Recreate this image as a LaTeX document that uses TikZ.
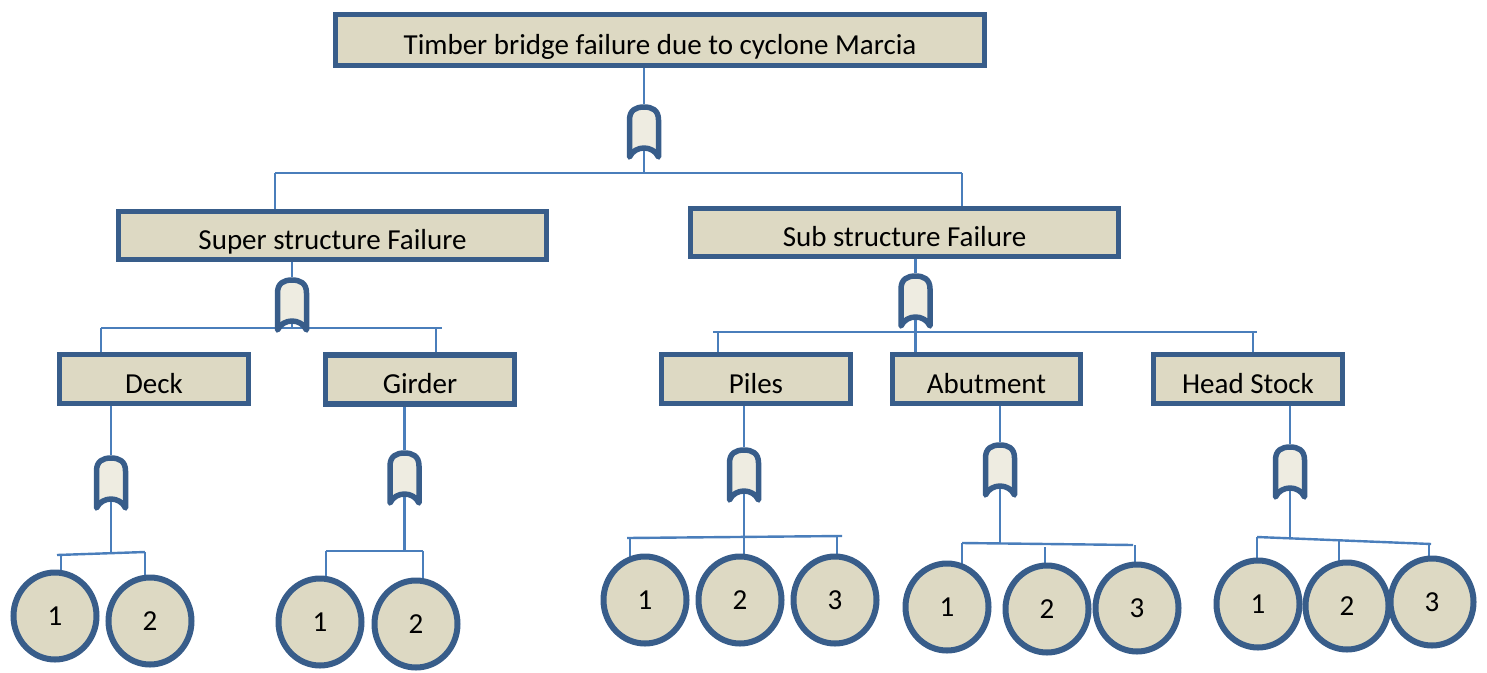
\documentclass[tikz,border=0pt]{standalone}
\usepackage{fontspec}
\setmainfont{Carlito}
\usetikzlibrary{shapes.geometric}
\definecolor{boxblue}{HTML}{385D8A}
\definecolor{boxfill}{HTML}{DDD9C3}
\definecolor{gatefill}{HTML}{EEECE1}
\definecolor{linkblue}{HTML}{4A7EBB}
\pgfdeclarelayer{background}
\pgfsetlayers{background,main}
\tikzset{
  box/.style={draw=boxblue, line width=5.5pt, fill=boxfill, inner sep=0pt,
    minimum height=49pt, font=\fontsize{29}{29}\selectfont, text height=28pt, text depth=0pt},
  basic/.style={ellipse, draw=boxblue, line width=6pt, fill=boxfill, inner sep=0pt,
    minimum width=83pt, minimum height=87pt, font=\fontsize{29}{29}\selectfont},
  link/.style={draw=linkblue, line width=2.4pt},
  pics/orgate/.style={code={
    \draw[draw=boxblue, fill=gatefill, line width=5.5pt, line cap=round, line join=round]
      (-14.5,50) -- (-14.5,13) .. controls (-14.5,3) and (-8,0) .. (0,0)
      .. controls (8,0) and (14.5,3) .. (14.5,13) -- (14.5,50)
      .. controls (9,38) and (-9,38) .. (-14.5,50) -- cycle;
    \coordinate (-top) at (0,-3);
    \coordinate (-bot) at (0,41);
  }}
}
\begin{document}
\begin{tikzpicture}[x=1pt,y=-1pt]
\useasboundingbox (0,0) rectangle (1487,672);
% boxes
\node[box, minimum width=649pt, minimum height=51pt] (top) at (660,40) {Timber bridge failure due to cyclone Marcia};
\node[box, minimum width=428pt, minimum height=48pt] (super) at (332.5,235.5) {Super structure Failure};
\node[box, minimum width=428pt, minimum height=48pt] (sub) at (904.5,232.5) {Sub structure Failure};
\node[box, minimum width=189pt] (deck) at (154,379) {Deck};
\node[box, minimum width=189pt] (girder) at (420,379.5) {Girder};
\node[box, minimum width=189pt] (piles) at (756,379) {Piles};
\node[box, minimum width=188pt] (abut) at (986.5,379) {Abutment};
\node[box, minimum width=189pt] (head) at (1248,379) {Head Stock};
% gates
\pic (g1) at (644,107) {orgate};
\pic (gS) at (292,280) {orgate};
\pic (gB) at (915.5,276) {orgate};
\pic (gD) at (111,458) {orgate};
\pic (gG) at (404.5,453) {orgate};
\pic (gP) at (744,450) {orgate};
\pic (gA) at (1000,445) {orgate};
\pic (gH) at (1290,447) {orgate};
% basic events
\node[basic] (d1) at (55,616) {1};
\node[basic] (d2) at (150,621) {2};
\node[basic] (r1) at (320,622) {1};
\node[basic] (r2) at (416,624) {2};
\node[basic] (p1) at (645,600) {1};
\node[basic] (p2) at (740,600) {2};
\node[basic] (p3) at (835,600) {3};
\node[basic] (a1) at (947,607) {1};
\node[basic] (a2) at (1047,609) {2};
\node[basic] (a3) at (1137,608) {3};
\node[basic] (h1) at (1258,604) {1};
\node[basic] (h2) at (1347,606) {2};
\node[basic] (h3) at (1432,602) {3};
% bus coordinates
\coordinate (b0l) at (275,173); \coordinate (b0m) at (644,173); \coordinate (b0r) at (962,173);
\coordinate (bSl) at (101,328); \coordinate (bSm) at (292,328); \coordinate (bSr) at (442,328); \coordinate (bSd) at (436,328);
\coordinate (bBl) at (713,332); \coordinate (bBm) at (915.5,332); \coordinate (bBr) at (1257,332);
\coordinate (bBd1) at (718,332); \coordinate (bBd3) at (1253,332);
\coordinate (bDl) at (57,555); \coordinate (bDm) at (111,554); \coordinate (bDr) at (145,552);
\coordinate (bDd1) at (61,555);
\coordinate (bGl) at (326,551); \coordinate (bGm) at (404.5,551); \coordinate (bGr) at (423,551);
\coordinate (bPl) at (627,538); \coordinate (bPm) at (744,537); \coordinate (bPr) at (842,536);
\coordinate (bPd1) at (630,538); \coordinate (bPd3) at (837,536);
\coordinate (bAl) at (962,543); \coordinate (bAm) at (1000,543); \coordinate (bAr) at (1133,545);
\coordinate (bAd2) at (1045,547); \coordinate (bAd3) at (1135,545);
\coordinate (bHl) at (1257,537); \coordinate (bHm) at (1290,538); \coordinate (bHr) at (1431,544);
\coordinate (bHd2) at (1339,541); \coordinate (bHd3) at (1429,544);
\begin{pgfonlayer}{background}
% level 0
\draw[link] (top.south -| g1-top) -- (g1-top);
\draw[link] (g1-bot) -- (b0m);
\draw[link] (b0l) -- (b0r);
\draw[link] (b0l) -- (b0l |- super.center);
\draw[link] (b0r) -- (b0r |- sub.center);
% super structure
\draw[link] (super.south -| gS-top) -- (gS-top);
\draw[link] (gS-bot) -- (bSm);
\draw[link] (bSl) -- (bSr);
\draw[link] (bSl) -- (bSl |- deck.center);
\draw[link] (bSd) -- (bSd |- girder.center);
% sub structure
\draw[link] (sub.south -| gB-top) -- (gB-top);
\draw[link] (gB-bot) -- (bBm) -- (bBm |- abut.center);
\draw[link] (bBl) -- (bBr);
\draw[link] (bBd1) -- (bBd1 |- piles.center);
\draw[link] (bBd3) -- (bBd3 |- head.center);
% deck
\draw[link] (deck.south -| gD-top) -- (gD-top);
\draw[link] (gD-bot) -- (bDm);
\draw[link] (bDl) -- (bDr);
\draw[link] (bDd1) -- (bDd1 |- d1.center);
\draw[link] (bDr) -- (bDr |- d2.center);
% girder
\draw[link] (girder.south -| gG-top) -- (gG-top);
\draw[link] (gG-bot) -- (bGm);
\draw[link] (bGl) -- (bGr);
\draw[link] (bGl) -- (bGl |- r1.center);
\draw[link] (bGr) -- (bGr |- r2.center);
% piles
\draw[link] (piles.south -| gP-top) -- (gP-top);
\draw[link] (gP-bot) -- (bPm) -- (bPm |- p2.center);
\draw[link] (bPl) -- (bPr);
\draw[link] (bPd1) -- (bPd1 |- p1.center);
\draw[link] (bPd3) -- (bPd3 |- p3.center);
% abutment
\draw[link] (abut.south -| gA-top) -- (gA-top);
\draw[link] (gA-bot) -- (bAm);
\draw[link] (bAl) -- (bAr);
\draw[link] (bAl) -- (bAl |- a1.center);
\draw[link] (bAd2) -- (bAd2 |- a2.center);
\draw[link] (bAd3) -- (bAd3 |- a3.center);
% head stock
\draw[link] (head.south -| gH-top) -- (gH-top);
\draw[link] (gH-bot) -- (bHm);
\draw[link] (bHl) -- (bHr);
\draw[link] (bHl) -- (bHl |- h1.center);
\draw[link] (bHd2) -- (bHd2 |- h2.center);
\draw[link] (bHd3) -- (bHd3 |- h3.center);
\end{pgfonlayer}
\end{tikzpicture}
\end{document}
